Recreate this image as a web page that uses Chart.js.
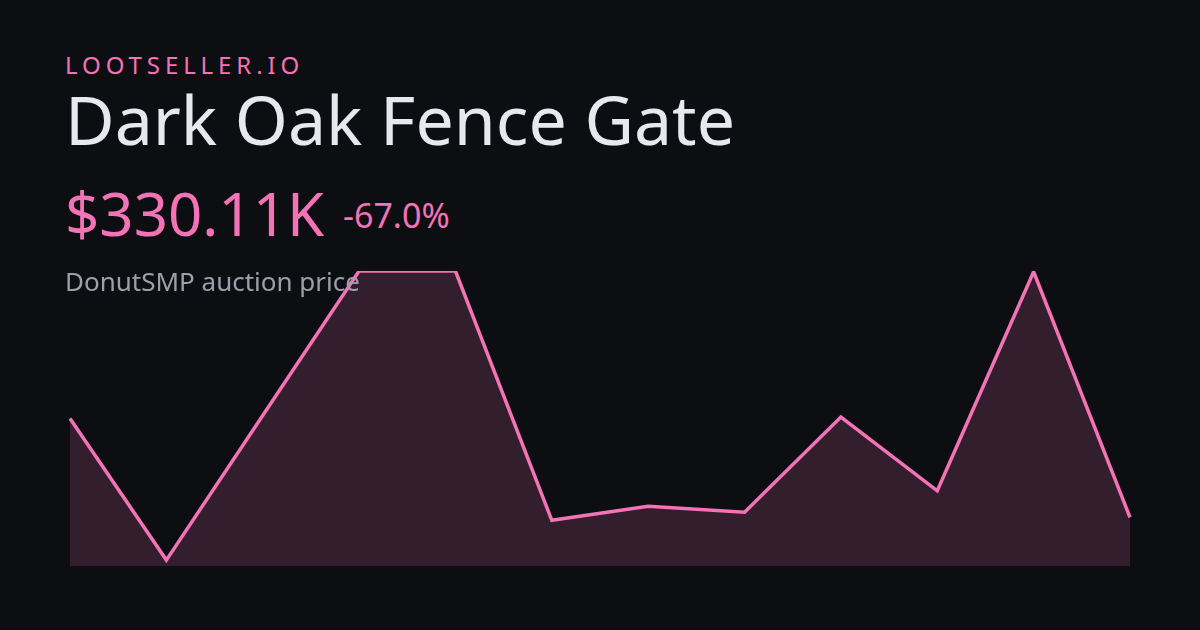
<!DOCTYPE html>
<html>
<head>
<meta charset="utf-8">
<script src="https://cdn.jsdelivr.net/npm/chart.js@4"></script>
<style>
    html, body { margin: 0; padding: 0; }
    body {
        width: 1200px; height: 630px; overflow: hidden;
        background: #0d0e11;
        font-family: "Noto Sans", sans-serif;
        position: relative;
    }
    .txt { position: absolute; left: 65px; line-height: 1; white-space: nowrap; }
    #brand { top: 53px; font-size: 24px; letter-spacing: 4.9px; color: #f472b6; }
    #title { top: 85px; font-size: 68px; color: #e8e9ee; }
    #price { top: 183px; font-size: 60px; color: #f472b6; }
    #change { top: 198px; left: 343px; font-size: 34px; color: #f472b6; }
    #sub { top: 268px; font-size: 26px; color: #9ca0ad; }
    #chartWrap { position: absolute; left: 66px; top: 267px; width: 1068px; height: 303px; }
</style>
</head>
<body>
<div id="chartWrap"><canvas id="priceChart"></canvas></div>
<div class="txt" id="brand">LOOTSELLER.IO</div>
<div class="txt" id="title">Dark Oak Fence Gate</div>
<div class="txt" id="price">$330.11K</div>
<div class="txt" id="change">-67.0%</div>
<div class="txt" id="sub">DonutSMP auction price</div>

<script>
// price history, in thousands
const labels = ['1', '2', '3', '4', '5', '6', '7', '8', '9', '10', '11', '12'];
const prices = [1000, 40, 1020, 2000, 2000, 310, 405, 365, 1010, 510, 1995, 330.11];

const PINK = '#f472b6';

document.addEventListener('DOMContentLoaded', function() {
    const ctx = document.getElementById('priceChart').getContext('2d');
    new Chart(ctx, {
        type: 'line',
        data: {
            labels: labels,
            datasets: [{
                data: prices,
                borderColor: PINK,
                borderWidth: 3.5,
                backgroundColor: 'rgba(244, 114, 182, 0.17)',
                fill: 'origin',
                tension: 0,
                pointRadius: 0,
                borderJoinStyle: 'miter'
            }]
        },
        options: {
            responsive: true,
            maintainAspectRatio: false,
            animation: false,
            layout: { padding: 4 },
            scales: {
                x: { display: false, offset: false },
                y: { display: false, min: 0, max: 2000 }
            },
            plugins: {
                legend: { display: false },
                tooltip: { enabled: false }
            }
        }
    });
});
</script>
</body>
</html>
